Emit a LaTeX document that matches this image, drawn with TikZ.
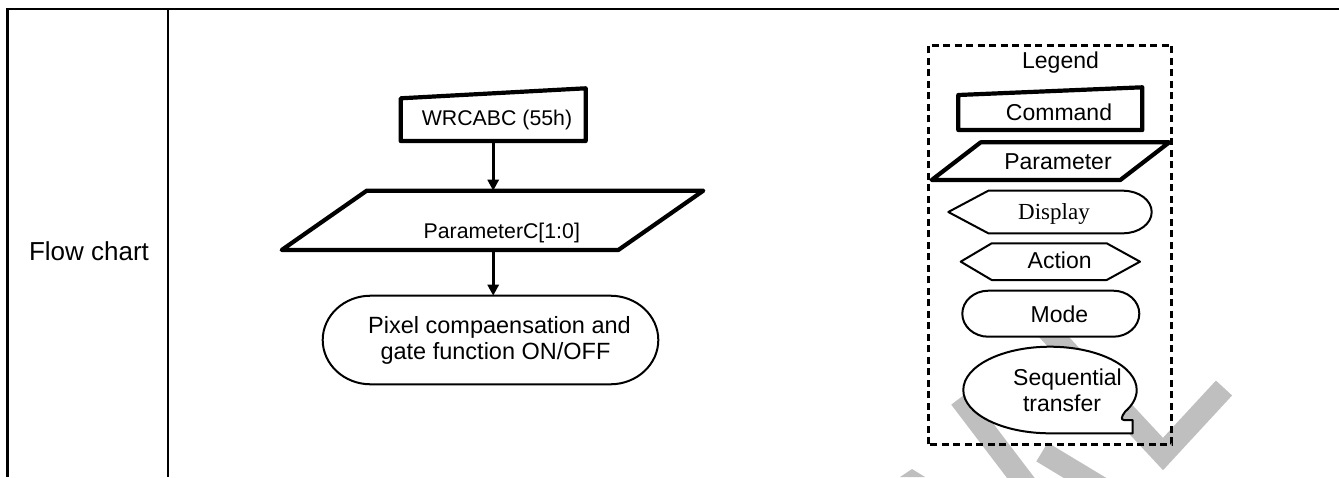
\documentclass[tikz,border=0pt]{standalone}
\usepackage{fontspec}
\setmainfont{Liberation Sans}
\newfontfamily\serifdisp{Liberation Serif}
\usetikzlibrary{arrows.meta}
\begin{document}
\begin{tikzpicture}[x=1pt,y=1pt,
  tbl/.style={line width=2.6pt},
  thickshape/.style={draw, line width=4.2pt, line join=round, fill=white},
  thinshape/.style={draw, line width=2pt, line join=round, fill=white},
  frame/.style={draw=none, inner sep=0pt, outer sep=0pt},
  lbl/.style={anchor=base, inner sep=0pt, font=\fontsize{21.3}{25}\selectfont},
  leglbl/.style={anchor=base, inner sep=0pt, font=\fontsize{23}{27}\selectfont},
  arr/.style={line width=3pt, -{Triangle[length=11pt,width=11pt]}},
  legbox/.style={draw, line width=3pt, dash pattern=on 7pt off 4.5pt},
  wm/.style={draw=black!25, line width=22pt}
]
\useasboundingbox (0,0) rectangle (1339,-477);
\clip (0,0) rectangle (1339,-477);

% watermark
\draw[wm, line join=miter] (1040,-322) -- (1163,-454) -- (1224,-388);
\draw[wm] (960,-398) -- (1030,-490);
\draw[wm] (1042,-452) -- (1105,-490);
\fill[black!25] (900,-477) -- (912,-469) -- (925,-477) -- cycle;

% table
\draw[tbl] (1339,-9) -- (7.5,-9) -- (7.5,-477);
\draw[tbl] (168,-9) -- (168,-477);
\node[anchor=base, inner sep=0pt, font=\fontsize{26}{30}\selectfont] (fc) at (89,-260) {Flow chart};

% flow chart frames
\node[frame, minimum width=185, minimum height=42.7] (cmd) at (493.2,-119.65) {};
\node[frame, minimum width=421.6, minimum height=59.3] (par) at (492.5,-220.35) {};
\node[frame, minimum width=335.6, minimum height=88.6] (pix) at (490.5,-340) {};

\draw[thickshape] (cmd.south west) -- (cmd.north west) -- ([yshift=10pt]cmd.north east) -- (cmd.south east) -- cycle;
\draw[thickshape] (par.south west) -- ([xshift=85pt]par.north west) -- (par.north east) -- ([xshift=-85pt]par.south east) -- cycle;
\draw[thinshape] ([xshift=48pt]pix.north west) -- ([xshift=-48pt]pix.north east)
  arc[start angle=90, end angle=-90, x radius=48pt, y radius=44.3pt]
  -- ([xshift=48pt]pix.south west)
  arc[start angle=270, end angle=90, x radius=48pt, y radius=44.3pt] -- cycle;

\draw[arr] (cmd.south) -- (cmd.south |- par.north);
\draw[arr] (cmd.south |- par.south) -- (cmd.south |- pix.north);

\node[lbl] (cmdt) at (497,-125) {WRCABC (55h)};
\node[lbl] (part) at (501.8,-238.3) {ParameterC[1:0]};
\node[anchor=base, inner sep=0pt, font=\fontsize{23.5}{27}\selectfont] (pixt1) at (499.5,-333) {Pixel compaensation and};
\node[anchor=base, inner sep=0pt, font=\fontsize{23.5}{27}\selectfont] (pixt2) at (495.5,-359) {gate function ON/OFF};

% legend
\node[frame, minimum width=243.4, minimum height=399.3] (leg) at (1050,-244.65) {};
\node[frame, minimum width=184, minimum height=35] (lcmd) at (1050.3,-112.5) {};
\node[frame, minimum width=237.6, minimum height=37.7] (lpar) at (1050.5,-161.15) {};
\node[frame, minimum width=203.4, minimum height=42.6] (ldisp) at (1050,-212) {};
\node[frame, minimum width=179.3, minimum height=36.7] (lact) at (1050.35,-261.65) {};
\node[frame, minimum width=177, minimum height=46] (lmode) at (1050.8,-313.7) {};
\node[frame, minimum width=173.4, minimum height=86.6] (lseq) at (1050,-390) {};

\draw[thickshape] (lcmd.south west) -- (lcmd.north west) -- ([yshift=7.7pt]lcmd.north east) -- (lcmd.south east) -- cycle;
\draw[thickshape] (lpar.south west) -- ([xshift=49pt]lpar.north west) -- (lpar.north east) -- ([xshift=-49pt]lpar.south east) -- cycle;
\draw[thinshape] (ldisp.west) -- ([xshift=40pt]ldisp.north west) -- ([xshift=-28.7pt]ldisp.north east)
  arc[start angle=90, end angle=-90, x radius=28.7pt, y radius=21.3pt]
  -- ([xshift=40pt]ldisp.south west) -- cycle;
\draw[thinshape] (lact.west) -- ([xshift=31pt]lact.north west) -- ([xshift=-33.3pt]lact.north east)
  -- (lact.east) -- ([xshift=-33.3pt]lact.south east) -- ([xshift=31pt]lact.south west) -- cycle;
\draw[thinshape] ([xshift=26pt]lmode.north west) -- ([xshift=-26pt]lmode.north east)
  arc[start angle=90, end angle=-90, x radius=26pt, y radius=23pt]
  -- ([xshift=26pt]lmode.south west)
  arc[start angle=270, end angle=90, x radius=26pt, y radius=23pt] -- cycle;
\draw[thinshape] (lseq.south) arc[start angle=270, end angle=-30, x radius=86.7pt, y radius=43.3pt]
  .. controls (1121,-417) and (1121,-420) .. (1124,-420) -- (1132.7,-420) -- (1132.7,-433.3) -- cycle;

\draw[legbox] (leg.south west) rectangle (leg.north east);

\node[leglbl] (legt) at (1060.5,-68.3) {Legend};
\node[leglbl] (lcmdt) at (1059,-120.7) {Command};
\node[leglbl] (lpart) at (1058,-169.3) {Parameter};
\node[anchor=base, inner sep=0pt, font=\serifdisp\fontsize{23}{27}\selectfont] (ldispt) at (1054,-219.5) {Display};
\node[leglbl] (lactt) at (1059.7,-268.3) {Action};
\node[leglbl] (lmodet) at (1059.5,-322.3) {Mode};
\node[leglbl] (lseqt1) at (1067.5,-385) {Sequential};
\node[leglbl] (lseqt2) at (1062,-411.7) {transfer};
\end{tikzpicture}
\end{document}
